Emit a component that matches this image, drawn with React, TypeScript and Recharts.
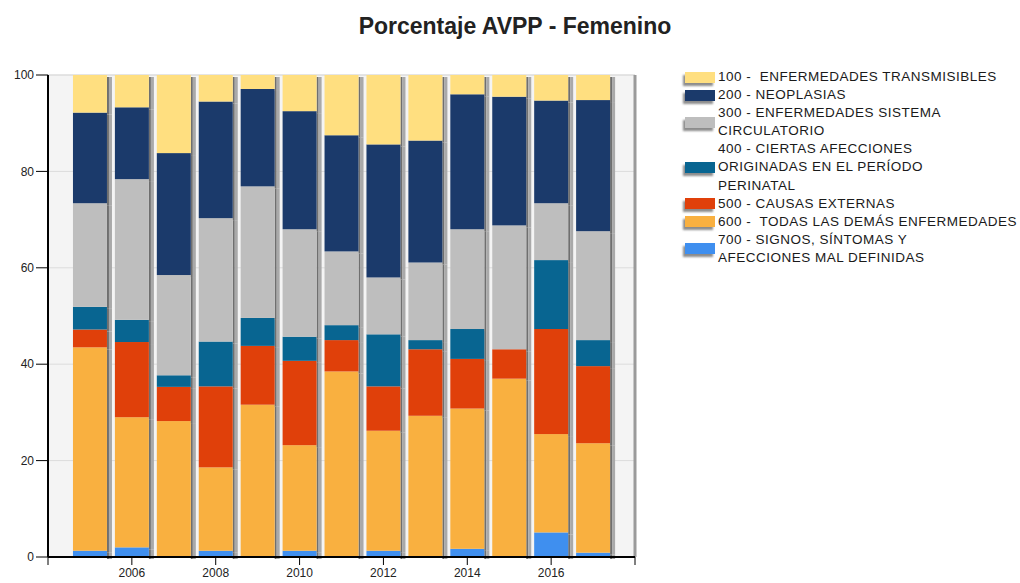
import React from "react";
import { BarChart, Bar, XAxis, YAxis, CartesianGrid, ReferenceLine } from "recharts";

const years = [2005, 2006, 2007, 2008, 2009, 2010, 2011, 2012, 2013, 2014, 2015, 2016, 2017];
// shares per group, bottom (700) to top (100)
const g700 = [1.3, 2.0, 0, 1.3, 0, 1.3, 0, 1.3, 0, 1.7, 0, 5.1, 0.9];
const g600 = [42.2, 27.0, 28.2, 17.3, 31.6, 21.9, 38.5, 24.9, 29.3, 29.1, 37.0, 20.4, 22.7];
const g500 = [3.7, 15.6, 7.1, 16.8, 12.2, 17.5, 6.5, 9.2, 13.8, 10.3, 6.1, 21.8, 16.0];
const g400 = [4.7, 4.6, 2.4, 9.3, 5.8, 5.0, 3.1, 10.8, 1.9, 6.2, 0, 14.3, 5.4];
const g300 = [21.5, 29.2, 20.8, 25.6, 27.3, 22.3, 15.3, 11.8, 16.1, 20.7, 25.7, 11.8, 22.6];
const g200 = [18.8, 14.9, 25.3, 24.2, 20.2, 24.5, 24.1, 27.6, 25.3, 28.0, 26.7, 21.3, 27.2];
const g100 = [7.8, 6.7, 16.2, 5.5, 2.9, 7.5, 12.5, 14.4, 13.6, 4.0, 4.5, 5.3, 5.2];

const yTicks = [0, 20, 40, 60, 80, 100];
const xTicks = [2004, 2006, 2008, 2010, 2012, 2014, 2016, 2018];

const series = [
  { key: "g700", label: "700 - SIGNOS, SÍNTOMAS Y\nAFECCIONES MAL DEFINIDAS", color: "#3F8FEF", vals: g700 },
  { key: "g600", label: "600 -  TODAS LAS DEMÁS ENFERMEDADES", color: "#F9B040", vals: g600 },
  { key: "g500", label: "500 - CAUSAS EXTERNAS", color: "#E0400A", vals: g500 },
  { key: "g400", label: "400 - CIERTAS AFECCIONES\nORIGINADAS EN EL PERÍODO\nPERINATAL", color: "#086591", vals: g400 },
  { key: "g300", label: "300 - ENFERMEDADES SISTEMA\nCIRCULATORIO", color: "#BEBEBE", vals: g300 },
  { key: "g200", label: "200 - NEOPLASIAS", color: "#1B3A6B", vals: g200 },
  { key: "g100", label: "100 -  ENFERMEDADES TRANSMISIBLES", color: "#FFDF80", vals: g100 },
];

const data = years.map((year, i) => {
  const row: Record<string, number> = { year };
  series.forEach((s) => (row[s.key] = s.vals[i]));
  return row;
});

function ShadowBar(props: any) {
  const { x, y, width, height, fill } = props;
  if (!height || height <= 0) return <g />;
  return (
    <g>
      <rect x={x + width} y={y + 2} width={2} height={height} fill="#6f6f6f" />
      <rect x={x + width + 2} y={y + 2} width={3} height={height} fill="#a9a9a9" />
      <rect x={x} y={y} width={width} height={height} fill={fill} />
    </g>
  );
}

function LegendBox() {
  const items = [...series].reverse();
  return (
    <div
      style={{
        position: "absolute",
        left: 685,
        top: 68,
        fontSize: 13.5,
        letterSpacing: 0.5,
        color: "#1a1a1a",
        lineHeight: "18.1px",
      }}
    >
      {items.map((s) => (
        <div key={s.key} style={{ display: "flex", alignItems: "center" }}>
          <div
            style={{
              width: 30,
              height: 11,
              background: s.color,
              boxShadow: "-2px 3px 2px rgba(0,0,0,0.45)",
              marginRight: 3,
              flex: "none",
            }}
          />
          <div style={{ whiteSpace: "pre" }}>{s.label}</div>
        </div>
      ))}
    </div>
  );
}

export default function App() {
  return (
    <div
      style={{
        position: "absolute",
        left: 0,
        top: 0,
        width: 1020,
        height: 583,
        background: "#fff",
        fontFamily: "'Liberation Sans', Arial, sans-serif",
      }}
    >
      <div
        style={{
          position: "absolute",
          left: 0,
          top: 13,
          width: 1030,
          textAlign: "center",
          fontSize: 23,
          fontWeight: "bold",
          color: "#222",
        }}
      >
        Porcentaje AVPP - Femenino
      </div>
      <BarChart
        width={1020}
        height={583}
        data={data}
        margin={{ top: 75, right: 385, bottom: 0, left: 0 }}
        barGap={0}
      >
        <CartesianGrid vertical={false} stroke="#dcdcdc" fill="#f4f4f4" />
        <XAxis
          dataKey="year"
          type="number"
          domain={[2004, 2018]}
          ticks={xTicks}
          tickFormatter={(v: number) => (v === 2004 || v === 2018 ? "" : String(v))}
          height={26}
          tickSize={8}
          tickMargin={3}
          axisLine={{ stroke: "#000", strokeWidth: 2 }}
          tickLine={{ stroke: "#000" }}
          tick={{ fill: "#222", fontSize: 12 }}
        />
        <YAxis
          domain={[0, 100]}
          ticks={yTicks}
          width={48}
          tickSize={12}
          tickMargin={2}
          axisLine={{ stroke: "#000", strokeWidth: 2 }}
          tickLine={{ stroke: "#000" }}
          tick={{ fill: "#222", fontSize: 12 }}
        />
        <ReferenceLine x={2018} stroke="#9a9a9a" strokeWidth={3} />
        {series.map((s) => (
          <Bar
            key={s.key}
            dataKey={s.key}
            stackId="a"
            fill={s.color}
            barSize={34}
            shape={<ShadowBar />}
            isAnimationActive={false}
          />
        ))}
      </BarChart>
      <LegendBox />
    </div>
  );
}
